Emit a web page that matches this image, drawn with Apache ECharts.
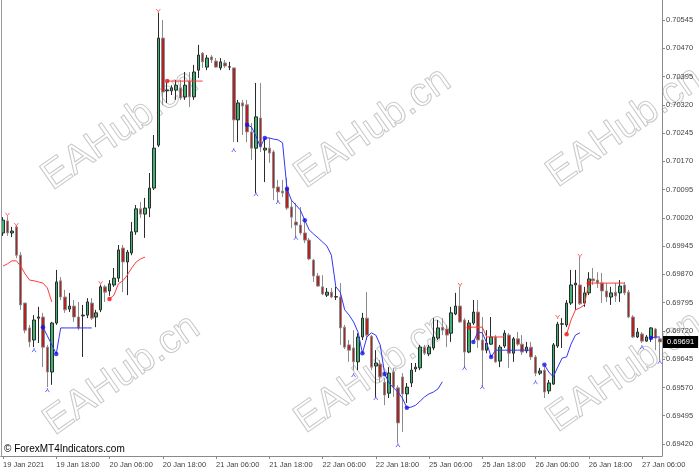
<!DOCTYPE html>
<html><head><meta charset="utf-8">
<script src="https://cdn.jsdelivr.net/npm/echarts@6/dist/echarts.min.js"></script>
<style>html,body{margin:0;padding:0;background:#fff;}#c{width:699px;height:473px;}</style>
</head><body><div id="c"></div>
<script>
// ---- time axis (hourly bars, weekend skipped) ----
const sessionDays = ['19 Jan','20 Jan','21 Jan','22 Jan','25 Jan','26 Jan','27 Jan'];
const sessionFirstHour = [6,0,0,0,0,0,0];
const sessionLastHour = [23,23,23,23,23,23,10];
const categories = [];
sessionDays.forEach((d,k)=>{for(let h=sessionFirstHour[k];h<=sessionLastHour[k];h++)categories.push(d+' '+String(h).padStart(2,'0')+':00');});

const tickCategories = ['19 Jan 06:00','19 Jan 18:00','20 Jan 06:00','20 Jan 18:00','21 Jan 06:00','21 Jan 18:00','22 Jan 06:00','22 Jan 18:00','25 Jan 06:00','25 Jan 18:00','26 Jan 06:00','26 Jan 18:00','27 Jan 06:00'];
const tickLabels = ['19 Jan 2021','19 Jan 18:00','20 Jan 06:00','20 Jan 18:00','21 Jan 06:00','21 Jan 18:00','22 Jan 06:00','22 Jan 18:00','25 Jan 06:00','25 Jan 18:00','26 Jan 06:00','26 Jan 18:00','27 Jan 06:00'];
const priceTicks = [0.69420,0.69495,0.69570,0.69645,0.69720,0.69795,0.69870,0.69945,0.70020,0.70095,0.70170,0.70245,0.70320,0.70395,0.70470,0.70545];
const priceMin = 0.693882, priceMax = 0.705981;

// ---- candles ----
const openP = [0.69980,0.70012,0.69980,0.69996,0.69921,0.69794,0.69728,0.69696,0.69754,0.69757,
0.69677,0.69611,0.69741,0.69853,0.69810,0.69778,0.69786,0.69757,0.69760,0.69762,
0.69794,0.69757,0.69776,0.69837,0.69826,0.69842,0.69860,0.69940,0.69903,0.69927,
0.69983,0.70044,0.70030,0.70046,0.70099,0.70213,0.70497,0.70357,0.70357,0.70359,
0.70365,0.70341,0.70383,0.70341,0.70412,0.70457,0.70420,0.70447,0.70436,0.70418,
0.70431,0.70420,0.70418,0.70280,0.70325,0.70320,0.70248,0.70205,0.70285,0.70200,
0.70205,0.70195,0.70102,0.70091,0.70097,0.70049,0.70009,0.70001,0.69980,0.69961,
0.69908,0.69866,0.69837,0.69815,0.69823,0.69810,0.69810,0.69730,0.69683,0.69675,
0.69638,0.69704,0.69754,0.69706,0.69627,0.69632,0.69584,0.69555,0.69611,0.69569,
0.69598,0.69553,0.69582,0.69619,0.69622,0.69677,0.69659,0.69675,0.69701,0.69730,
0.69725,0.69714,0.69765,0.69786,0.69749,0.69664,0.69741,0.69770,0.69696,0.69669,
0.69685,0.69704,0.69640,0.69680,0.69709,0.69661,0.69699,0.69685,0.69667,0.69677,
0.69651,0.69608,0.69616,0.69561,0.69579,0.69680,0.69738,0.69736,0.69794,0.69842,
0.69842,0.69794,0.69821,0.69858,0.69855,0.69847,0.69826,0.69810,0.69823,0.69821,
0.69842,0.69823,0.69757,0.69704,0.69712,0.69693,0.69701,0.69725,0.69699];
const closeP = [0.70014,0.69980,0.69985,0.69921,0.69789,0.69722,0.69691,0.69749,0.69757,0.69677,
0.69611,0.69741,0.69850,0.69810,0.69776,0.69786,0.69757,0.69728,0.69762,0.69797,
0.69754,0.69768,0.69837,0.69823,0.69845,0.69860,0.69935,0.69903,0.69929,0.69983,
0.70044,0.70030,0.70046,0.70099,0.70205,0.70497,0.70354,0.70359,0.70365,0.70372,
0.70338,0.70372,0.70341,0.70407,0.70452,0.70434,0.70444,0.70439,0.70420,0.70434,
0.70423,0.70421,0.70280,0.70325,0.70317,0.70248,0.70205,0.70288,0.70208,0.70205,
0.70192,0.70099,0.70089,0.70086,0.70046,0.70022,0.70001,0.69980,0.69961,0.69911,
0.69866,0.69839,0.69818,0.69823,0.69810,0.69811,0.69728,0.69677,0.69669,0.69638,
0.69704,0.69754,0.69709,0.69624,0.69635,0.69598,0.69550,0.69608,0.69571,0.69476,
0.69553,0.69571,0.69616,0.69624,0.69677,0.69661,0.69677,0.69704,0.69728,0.69722,
0.69709,0.69768,0.69786,0.69744,0.69664,0.69741,0.69770,0.69696,0.69669,0.69688,
0.69704,0.69638,0.69677,0.69714,0.69661,0.69699,0.69685,0.69664,0.69677,0.69651,
0.69608,0.69614,0.69558,0.69582,0.69683,0.69738,0.69739,0.69794,0.69842,0.69847,
0.69792,0.69821,0.69858,0.69853,0.69847,0.69826,0.69810,0.69821,0.69813,0.69839,
0.69821,0.69757,0.69704,0.69717,0.69693,0.69704,0.69728,0.69701,0.69691];
const lowP = [0.69972,0.69972,0.69969,0.69913,0.69776,0.69714,0.69677,0.69677,0.69688,0.69624,
0.69571,0.69577,0.69736,0.69802,0.69768,0.69770,0.69744,0.69722,0.69651,0.69754,
0.69749,0.69730,0.69770,0.69797,0.69813,0.69837,0.69850,0.69823,0.69815,0.69921,
0.69975,0.70020,0.69967,0.70022,0.70094,0.70208,0.70319,0.70325,0.70346,0.70333,
0.70333,0.70333,0.70314,0.70333,0.70391,0.70418,0.70412,0.70431,0.70418,0.70412,
0.70418,0.70412,0.70221,0.70221,0.70240,0.70221,0.70174,0.70086,0.70195,0.70115,
0.70166,0.70067,0.70062,0.70075,0.70041,0.69993,0.69967,0.69975,0.69953,0.69908,
0.69850,0.69837,0.69815,0.69810,0.69807,0.69802,0.69683,0.69672,0.69638,0.69616,
0.69616,0.69696,0.69696,0.69616,0.69542,0.69584,0.69523,0.69542,0.69545,0.69423,
0.69452,0.69529,0.69571,0.69611,0.69616,0.69656,0.69653,0.69669,0.69696,0.69709,
0.69677,0.69691,0.69762,0.69741,0.69622,0.69661,0.69736,0.69675,0.69571,0.69661,
0.69683,0.69635,0.69624,0.69675,0.69622,0.69638,0.69680,0.69656,0.69661,0.69643,
0.69600,0.69603,0.69542,0.69553,0.69577,0.69675,0.69675,0.69730,0.69789,0.69776,
0.69789,0.69784,0.69815,0.69842,0.69834,0.69794,0.69797,0.69789,0.69797,0.69797,
0.69815,0.69754,0.69701,0.69701,0.69688,0.69691,0.69691,0.69669,0.69643];
const highP = [0.70022,0.70022,0.69996,0.70001,0.69929,0.69794,0.69736,0.69762,0.69784,0.69768,
0.69683,0.69744,0.69882,0.69863,0.69829,0.69821,0.69802,0.69797,0.69789,0.69807,
0.69807,0.69776,0.69842,0.69842,0.69855,0.69887,0.69948,0.69948,0.69935,0.70009,
0.70054,0.70062,0.70073,0.70139,0.70240,0.70564,0.70545,0.70380,0.70372,0.70386,
0.70386,0.70407,0.70407,0.70426,0.70479,0.70460,0.70452,0.70452,0.70444,0.70444,
0.70439,0.70434,0.70418,0.70333,0.70333,0.70333,0.70272,0.70378,0.70378,0.70232,
0.70232,0.70200,0.70121,0.70121,0.70126,0.70067,0.70059,0.70049,0.70014,0.69967,
0.69911,0.69874,0.69868,0.69834,0.69834,0.69837,0.69847,0.69736,0.69696,0.69722,
0.69714,0.69768,0.69823,0.69709,0.69669,0.69643,0.69595,0.69624,0.69622,0.69576,
0.69608,0.69582,0.69635,0.69635,0.69683,0.69683,0.69683,0.69754,0.69749,0.69754,
0.69736,0.69784,0.69821,0.69837,0.69754,0.69749,0.69802,0.69802,0.69757,0.69722,
0.69757,0.69709,0.69683,0.69722,0.69714,0.69704,0.69717,0.69709,0.69691,0.69691,
0.69656,0.69622,0.69624,0.69590,0.69688,0.69744,0.69754,0.69802,0.69882,0.69882,
0.69916,0.69837,0.69876,0.69887,0.69876,0.69874,0.69847,0.69837,0.69847,0.69855,
0.69850,0.69829,0.69762,0.69728,0.69717,0.69709,0.69730,0.69728,0.69704];

// ---- trailing-stop indicator lines (segments: start bar + values) ----
const redSegStart = [0,24,37,105,127];
const redSegValues = [
 [0.69892,0.69898,0.69906,0.69906,0.69892,0.69871,0.69855,0.69853,0.69850,0.69847,0.69834,0.69797],
 [0.69805,0.69815,0.69845,0.69853,0.69868,0.69887,0.69903,0.69911,0.69916],
 [0.70383,0.70383,0.70383,0.70383,0.70383,0.70383,0.70383,0.70383,0.70383],
 [0.69730,0.69730,0.69730,0.69730,0.69704,0.69704,0.69704,0.69704,0.69704],
 [0.69711,0.69749,0.69776,0.69781,0.69789,0.69847,0.69847,0.69847,0.69847,0.69847,0.69847,0.69847,0.69847,0.69847]
];
const blueSegStart = [9,55,106,122,146];
const blueSegValues = [
 [0.69730,0.69707,0.69683,0.69659,0.69728,0.69728,0.69728,0.69728,0.69728,0.69728,0.69728,0.69728],
 [0.70267,0.70261,0.70237,0.70208,0.70232,0.70232,0.70229,0.70227,0.70219,0.70097,0.70067,0.70054,0.70041,0.70014,0.69988,
  0.69977,0.69967,0.69956,0.69945,0.69921,0.69837,0.69823,0.69776,0.69762,0.69744,0.69717,0.69661,0.69704,0.69715,0.69709,
  0.69683,0.69606,0.69582,0.69569,0.69558,0.69542,0.69516,0.69518,0.69523,0.69534,0.69545,0.69553,0.69558,0.69566,0.69585],
 [0.69691,0.69717,0.69715,0.69688,0.69651,0.69669,0.69669,0.69669,0.69669,0.69669,0.69669,0.69669,0.69669,0.69669],
 [0.69630,0.69611,0.69598,0.69624,0.69648,0.69651,0.69685,0.69709,0.69715],
 [0.69701,0.69704,0.69704]
];
const redDotIdx = [24,37,105,127,132];
const redDotVal = [0.69805,0.70383,0.69730,0.69711,0.69847];
const blueDotIdx = [9,12,55,59,64,68,81,86,91,106,110,122,146];
const blueDotVal = [0.69730,0.69659,0.70267,0.70232,0.70097,0.70014,0.69661,0.69606,0.69516,0.69691,0.69651,0.69630,0.69701];
const redArrowIdx = [1,3,22,35,103,125,130];
const redArrowVal = [0.70028,0.70001,0.69847,0.70569,0.69842,0.69757,0.69919];
const blueArrowIdx = [7,10,52,57,62,66,79,84,89,104,108,120,144,148];
const blueArrowVal = [0.69669,0.69563,0.70200,0.70083,0.70062,0.69967,0.69603,0.69542,0.69417,0.69622,0.69571,0.69584,0.69677,0.69638];

// ---- build ----
const ohlc = openP.map((o,i)=>[o,closeP[i],lowP[i],highP[i]]);
function segData(starts, vals){const a=new Array(categories.length).fill(null);starts.forEach((s,k)=>vals[k].forEach((v,j)=>{a[s+j]=v;}));return a;}
const pairs=(idx,val)=>idx.map((x,k)=>[x,val[k]]);
const FONT='"Liberation Sans", Arial, sans-serif';
const isTick=(i,v)=>tickCategories.indexOf(v)>=0;

const wmPos=[[120,130],[373,128],[625,127],[122,375],[373,373],[625,372]];
const graphics = wmPos.map(p=>({type:'text',x:p[0],y:p[1],rotation:35*Math.PI/180,z:0,silent:true,
  style:{text:'EAHub.cn',font:'40px '+FONT,fill:'rgba(255,255,255,0)',stroke:'#c8c8c8',lineWidth:1,
  textAlign:'center',textVerticalAlign:'middle',align:'center',verticalAlign:'middle'}}));
graphics.push({type:'line',z:5,shape:{x1:1.5,y1:0,x2:1.5,y2:456},style:{stroke:'#9a9a9a',lineWidth:1}});
graphics.push({type:'text',left:4,top:444,z:10,style:{text:'\u00A9 ForexMT4Indicators.com',font:'10px '+FONT,fill:'#000'}});

const chart = echarts.init(document.getElementById('c'));
chart.setOption({
  animation:false,
  backgroundColor:'#fff',
  grid:{left:0,right:37,top:0,bottom:17,containLabel:false},
  graphic:graphics,
  xAxis:{type:'category',data:categories,boundaryGap:true,
    axisLine:{lineStyle:{color:'#8a8a8a'}},
    axisTick:{show:true,alignWithLabel:true,interval:isTick,length:3,lineStyle:{color:'#8a8a8a'}},
    axisLabel:{interval:isTick,align:'left',margin:5,fontSize:7.5,fontFamily:FONT,color:'#444',
      formatter:v=>{const k=tickCategories.indexOf(v);return k>=0?tickLabels[k]:'';}},
    splitLine:{show:false}},
  yAxis:{type:'value',position:'right',min:priceMin,max:priceMax,scale:true,
    axisLine:{show:true,lineStyle:{color:'#8a8a8a'}},
    axisTick:{show:true,length:3,customValues:priceTicks,lineStyle:{color:'#8a8a8a'}},
    axisLabel:{customValues:priceTicks,margin:4,fontSize:7.5,fontFamily:FONT,color:'#444',formatter:v=>v.toFixed(5)},
    splitLine:{show:false}},
  series:[
    {type:'candlestick',data:ohlc,barWidth:3,z:3,
      itemStyle:{color:'#3cb371',color0:'#b22222',borderColor:'#2b2b2b',borderColor0:'#8c8c8c',borderColorDoji:'#2b2b2b',borderWidth:1},
      markLine:{silent:true,precision:5,symbol:['none','none'],z:20,lineStyle:{color:'rgba(0,0,0,0)',width:1,type:'solid'},
        label:{show:true,position:'end',distance:1,formatter:p=>Number(p.value).toFixed(5),backgroundColor:'#000',color:'#fff',
          fontSize:7.5,fontFamily:FONT,padding:[2,4,2,4],opacity:1},
        emphasis:{disabled:true},
        data:[{yAxis:closeP[closeP.length-1]}]}},
    {type:'line',data:segData(redSegStart,redSegValues),showSymbol:false,connectNulls:false,z:4,
      lineStyle:{color:'#ff3b3b',width:1}},
    {type:'line',data:segData(blueSegStart,blueSegValues),showSymbol:false,connectNulls:false,z:4,
      lineStyle:{color:'#3535f5',width:1}},
    {type:'scatter',data:pairs(redDotIdx,redDotVal),symbol:'circle',symbolSize:4.5,z:5,itemStyle:{color:'#ee1111'}},
    {type:'scatter',data:pairs(blueDotIdx,blueDotVal),symbol:'circle',symbolSize:4.5,z:5,itemStyle:{color:'#1111ee'}},
    {type:'scatter',data:pairs(redArrowIdx,redArrowVal),symbol:'path://M0,0L5,7L10,0M5,7L5,10',symbolSize:[4,4],z:5,
      itemStyle:{color:'rgba(0,0,0,0)',borderColor:'#ff4a4a',borderWidth:1}},
    {type:'scatter',data:pairs(blueArrowIdx,blueArrowVal),symbol:'path://M0,10L5,3L10,10M5,3L5,0',symbolSize:[4,4],z:5,
      itemStyle:{color:'rgba(0,0,0,0)',borderColor:'#4a4aff',borderWidth:1}}
  ]
});
</script></body></html>
